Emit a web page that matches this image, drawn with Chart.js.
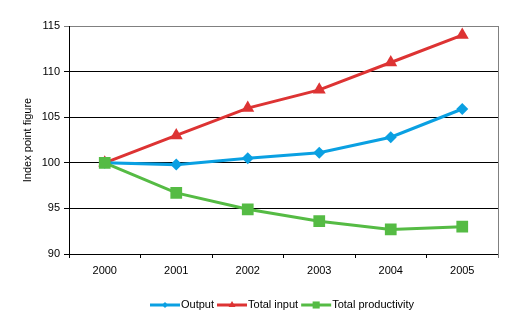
<!DOCTYPE html>
<html>
<head>
<meta charset="utf-8">
<script src="https://cdn.jsdelivr.net/npm/chart.js@4"></script>
<style>
  html, body { margin: 0; padding: 0; background: #fff; }
  #wrap { width: 512px; height: 322px; }
</style>
</head>
<body>
<div id="wrap"><canvas id="prodChart" width="512" height="322"></canvas></div>
<script>
var years = ['2000', '2001', '2002', '2003', '2004', '2005'];
var outputIdx = [100, 99.8, 100.5, 101.1, 102.8, 105.9];
var inputIdx = [100, 103, 106, 108, 111, 114];
var productivityIdx = [100, 96.7, 94.9, 93.6, 92.7, 93.0];
var yTicks = [90, 95, 100, 105, 110, 115];

var FONT = '"Liberation Sans", Arial, sans-serif';
var BLUE = '#0aa0e2', RED = '#dd3333', GREEN = '#55bb44';

var legendItems = [
  { text: 'Output', color: BLUE, style: 'rectRot', r: 3 },
  { text: 'Total input', color: RED, style: 'triangle', r: 4 },
  { text: 'Total productivity', color: GREEN, style: 'rect', r: 5 }
];

var framePlugin = {
  id: 'frame',
  afterDraw: function (chart) {
    var ctx = chart.ctx, a = chart.chartArea;
    ctx.save();
    ctx.strokeStyle = '#808080';
    ctx.lineWidth = 1;
    ctx.beginPath();
    ctx.moveTo(Math.round(a.right) + 0.5, Math.round(a.top));
    ctx.lineTo(Math.round(a.right) + 0.5, Math.round(a.bottom) + 4);
    ctx.stroke();

    // legend
    ctx.font = '11px ' + FONT;
    ctx.textBaseline = 'middle';
    var x = 150, y = 305;
    legendItems.forEach(function (it) {
      ctx.strokeStyle = it.color;
      ctx.fillStyle = it.color;
      ctx.lineWidth = 3;
      ctx.beginPath();
      ctx.moveTo(x, y);
      ctx.lineTo(x + 30, y);
      ctx.stroke();
      Chart.helpers.drawPoint(ctx, { pointStyle: it.style, radius: it.r, rotation: 0, borderWidth: 0 }, x + 15, y);
      ctx.fillStyle = '#000';
      ctx.fillText(it.text, x + 31, y);
      x += 31 + ctx.measureText(it.text).width + 3;
    });
    ctx.restore();
  }
};

function ds(label, data, color, style, radius, order) {
  return {
    label: label, data: data, borderColor: color, backgroundColor: color,
    borderWidth: 3, pointStyle: style, pointRadius: radius, pointBorderWidth: 0,
    pointBackgroundColor: color, tension: 0, order: order
  };
}

new Chart(document.getElementById('prodChart'), {
  type: 'line',
  data: {
    labels: years,
    datasets: [
      ds('Output', outputIdx, BLUE, 'rectRot', 6, 1),
      ds('Total input', inputIdx, RED, 'triangle', 7.5, 2),
      ds('Total productivity', productivityIdx, GREEN, 'rect', 8.3, 0)
    ]
  },
  options: {
    responsive: false,
    animation: false,
    layout: { padding: { top: 26, right: 14, bottom: 38, left: 0 } },
    plugins: { legend: { display: false }, tooltip: { enabled: false } },
    scales: {
      x: {
        offset: true,
        grid: { offset: true, drawOnChartArea: false, color: '#000', tickLength: 4 },
        border: { color: '#000' },
        ticks: { color: '#000', font: { family: FONT, size: 11 }, padding: 6, maxRotation: 0 },
        afterFit: function (s) { s.height = 30; }
      },
      y: {
        min: 90, max: 115,
        afterBuildTicks: function (s) { s.ticks = yTicks.map(function (v) { return { value: v }; }); },
        grid: {
          color: function (c) { return c.tick && c.tick.value === 115 ? '#808080' : '#000'; },
          tickLength: 5
        },
        border: { color: '#000' },
        ticks: { color: '#000', font: { family: FONT, size: 11 }, padding: 4 },
        title: { display: true, text: 'Index point figure', color: '#000', font: { family: FONT, size: 11 }, padding: { top: 21, bottom: 0 } },
        afterFit: function (s) { s.width = 69; }
      }
    }
  },
  plugins: [framePlugin]
});
</script>
</body>
</html>
